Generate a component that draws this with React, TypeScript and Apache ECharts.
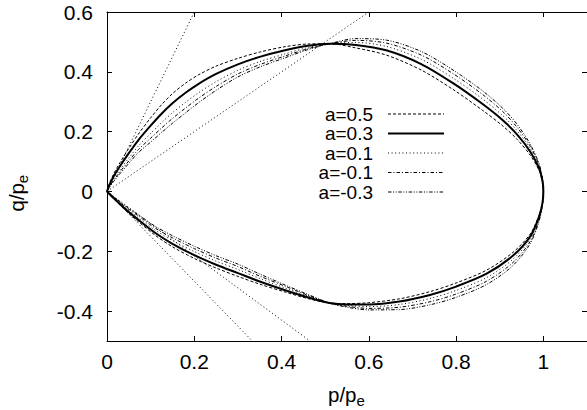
import React, { useEffect, useRef } from 'react';
import * as echarts from 'echarts';

const X_TICKS = [0, 0.2, 0.4, 0.6, 0.8, 1];
const Y_TICKS = [-0.4, -0.2, 0, 0.2, 0.4, 0.6];

const SERIES_NAMES = ['a=0.5', 'a=0.3', 'a=0.1', 'a=-0.1', 'a=-0.3'];

// upper branch (p ascending, 0 -> 1)
const UPPER_P = [0, 0.005, 0.015, 0.03, 0.05, 0.072, 0.1, 0.125, 0.15, 0.18, 0.21, 0.25, 0.3, 0.35, 0.408, 0.46, 0.51, 0.57, 0.64, 0.72, 0.793, 0.86, 0.907, 0.94, 0.97, 0.99, 0.998, 1.0];
const UP_A05 = [0, 0.024, 0.058, 0.097, 0.144, 0.192, 0.246, 0.290, 0.327, 0.362, 0.390, 0.419, 0.445, 0.466, 0.484, 0.493, 0.494, 0.480, 0.456, 0.406, 0.341, 0.272, 0.219, 0.174, 0.121, 0.071, 0.032, 0];
const UP_A03 = [0, 0.020, 0.050, 0.085, 0.128, 0.172, 0.220, 0.260, 0.295, 0.330, 0.360, 0.393, 0.425, 0.450, 0.472, 0.487, 0.494, 0.490, 0.472, 0.426, 0.362, 0.293, 0.238, 0.190, 0.133, 0.078, 0.035, 0];
const UP_A01 = [0, 0.016, 0.042, 0.073, 0.112, 0.152, 0.194, 0.230, 0.263, 0.298, 0.330, 0.367, 0.405, 0.434, 0.460, 0.481, 0.494, 0.498, 0.485, 0.442, 0.379, 0.310, 0.253, 0.203, 0.143, 0.084, 0.037, 0];
const UP_AM01 = [0, 0.014, 0.037, 0.066, 0.102, 0.140, 0.178, 0.212, 0.244, 0.279, 0.312, 0.351, 0.393, 0.424, 0.453, 0.477, 0.494, 0.505, 0.496, 0.456, 0.394, 0.325, 0.267, 0.214, 0.151, 0.089, 0.040, 0];
const UP_AM03 = [0, 0.012, 0.033, 0.060, 0.094, 0.130, 0.165, 0.197, 0.228, 0.263, 0.297, 0.338, 0.383, 0.416, 0.447, 0.474, 0.494, 0.511, 0.506, 0.468, 0.406, 0.337, 0.278, 0.224, 0.158, 0.093, 0.041, 0];

// lower branch (p descending, 1 -> 0)
const LOWER_P = [1.0, 0.998, 0.99, 0.97, 0.93, 0.87, 0.8, 0.74, 0.67, 0.6, 0.55, 0.51, 0.46, 0.41, 0.35, 0.3, 0.25, 0.2, 0.15, 0.11, 0.072, 0.04, 0.015, 0];
const LO_A05 = [0, -0.036, -0.080, -0.142, -0.204, -0.263, -0.306, -0.335, -0.359, -0.372, -0.375, -0.373, -0.358, -0.337, -0.310, -0.284, -0.256, -0.224, -0.185, -0.146, -0.101, -0.060, -0.024, 0];
const LO_A03 = [0, -0.038, -0.085, -0.150, -0.215, -0.275, -0.318, -0.346, -0.368, -0.378, -0.378, -0.373, -0.354, -0.331, -0.301, -0.273, -0.245, -0.213, -0.175, -0.138, -0.095, -0.056, -0.022, 0];
const LO_A01 = [0, -0.040, -0.091, -0.159, -0.227, -0.288, -0.331, -0.358, -0.378, -0.385, -0.381, -0.373, -0.350, -0.324, -0.291, -0.261, -0.233, -0.201, -0.164, -0.129, -0.088, -0.052, -0.020, 0];
const LO_AM01 = [0, -0.042, -0.096, -0.167, -0.238, -0.300, -0.343, -0.369, -0.387, -0.391, -0.384, -0.373, -0.347, -0.318, -0.283, -0.251, -0.223, -0.191, -0.155, -0.122, -0.082, -0.049, -0.018, 0];
const LO_AM03 = [0, -0.044, -0.100, -0.174, -0.248, -0.311, -0.354, -0.379, -0.395, -0.396, -0.387, -0.373, -0.344, -0.314, -0.276, -0.243, -0.215, -0.183, -0.148, -0.116, -0.078, -0.046, -0.017, 0];

// guide rays from the origin (end points)
const RAY_ENDS = [
  [0.2, 0.6],
  [0.6, 0.6],
  [0.333, -0.5],
  [0.465, -0.5],
];

const UPPERS = [UP_A05, UP_A03, UP_A01, UP_AM01, UP_AM03];
const LOWERS = [LO_A05, LO_A03, LO_A01, LO_AM01, LO_AM03];

const STYLES: { width: number; dash: number[] | null }[] = [
  { width: 1, dash: [3, 2] },
  { width: 2, dash: null },
  { width: 1, dash: [1, 2.6] },
  { width: 1, dash: [3.5, 2, 1, 2] },
  { width: 1, dash: [3.5, 1.6, 1, 1.6, 1, 1.6] },
];

const FONT = '"Liberation Sans", Arial, Helvetica, sans-serif';

export default function App() {
  const ref = useRef<HTMLDivElement>(null);
  useEffect(() => {
    const chart = echarts.init(ref.current!, null, { renderer: 'svg' });

    const curveSeries = SERIES_NAMES.map((name, k) => {
      const up = UPPER_P.map((p, i) => [p, UPPERS[k][i]]);
      const lo = LOWER_P.slice(1).map((p, i) => [p, LOWERS[k][i + 1]]);
      return {
        name,
        type: 'line',
        data: up.concat(lo),
        showSymbol: false,
        symbol: 'none',
        smooth: 0.3,
        lineStyle: { color: '#000', width: STYLES[k].width, type: STYLES[k].dash ? STYLES[k].dash : 'solid' },
        z: 3,
      };
    });

    const raySeries = RAY_ENDS.map((e, i) => ({
      name: 'ray' + i,
      type: 'line',
      data: [[0, 0], e],
      symbol: 'none',
      showSymbol: false,
      lineStyle: { color: '#000', width: 1, type: [1, 2.6] },
      z: 2,
    }));

    const legendGraphics: any[] = [];
    SERIES_NAMES.forEach((name, i) => {
      const y = 114 + 19.5 * i;
      legendGraphics.push({
        type: 'text',
        x: 373,
        y,
        style: {
          text: name,
          fill: '#000',
          fontSize: 19,
          lineHeight: 19,
          fontFamily: FONT,
          align: 'right',
          verticalAlign: 'middle',
          textAlign: 'right',
          textVerticalAlign: 'middle',
        },
      });
      legendGraphics.push({
        type: 'line',
        shape: { x1: 388, y1: y, x2: 444, y2: y },
        style: {
          stroke: '#000',
          lineWidth: STYLES[i].width,
          lineDash: STYLES[i].dash,
        },
      });
    });

    const textEl = (text: string, size: number, x: number, y: number) => ({
      type: 'text',
      x,
      y,
      style: {
        text,
        fill: '#000',
        fontSize: size,
        fontFamily: FONT,
        align: 'left',
        verticalAlign: 'middle',
        textAlign: 'left',
        textVerticalAlign: 'middle',
      },
    });

    const tickLabel = { color: '#000', fontSize: 21, fontFamily: FONT };

    const option: any = {
      animation: false,
      backgroundColor: '#fff',
      grid: { left: 107, top: 12, right: -1, bottom: 69 },
      xAxis: [
        {
          type: 'value',
          min: 0,
          max: 1.1,
          position: 'bottom',
          axisLine: { show: true, onZero: false, lineStyle: { color: '#000', width: 1 } },
          axisTick: { show: true, inside: true, length: 5, lineStyle: { color: '#000' }, customValues: X_TICKS },
          axisLabel: { show: true, customValues: X_TICKS, margin: 10, ...tickLabel },
          splitLine: { show: false },
        },
        {
          type: 'value',
          min: 0,
          max: 1.1,
          position: 'top',
          axisLine: { show: true, onZero: false, lineStyle: { color: '#000', width: 1 } },
          axisTick: { show: true, inside: true, length: 5, lineStyle: { color: '#000' }, customValues: X_TICKS },
          axisLabel: { show: false },
          splitLine: { show: false },
        },
      ],
      yAxis: [
        {
          type: 'value',
          min: -0.5,
          max: 0.6,
          position: 'left',
          axisLine: { show: true, onZero: false, lineStyle: { color: '#000', width: 1 } },
          axisTick: { show: true, inside: true, length: 5, lineStyle: { color: '#000' }, customValues: Y_TICKS },
          axisLabel: { show: true, customValues: Y_TICKS, margin: 14, ...tickLabel },
          splitLine: { show: false },
        },
        {
          type: 'value',
          min: -0.5,
          max: 0.6,
          position: 'right',
          axisLine: { show: true, onZero: false, lineStyle: { color: '#000', width: 1 } },
          axisTick: { show: true, inside: true, length: 5, lineStyle: { color: '#000' }, customValues: Y_TICKS },
          axisLabel: { show: false },
          splitLine: { show: false },
        },
      ],
      series: [...raySeries, ...curveSeries],
      graphic: [
        ...legendGraphics,
        textEl('p/p', 20.5, 328, 394.5),
        textEl('e', 15, 356.5, 400.5),
        {
          type: 'group',
          x: 16,
          y: 192,
          rotation: Math.PI / 2,
          children: [
            textEl('q/p', 20.5, -19.5, 0),
            textEl('e', 15, 8.8, 6),
          ],
        },
      ],
    };
    chart.setOption(option);
    return () => chart.dispose();
  }, []);
  return (
    <div
      ref={ref}
      style={{ position: 'fixed', left: 0, top: 0, width: 587, height: 410, background: '#fff' }}
    />
  );
}
